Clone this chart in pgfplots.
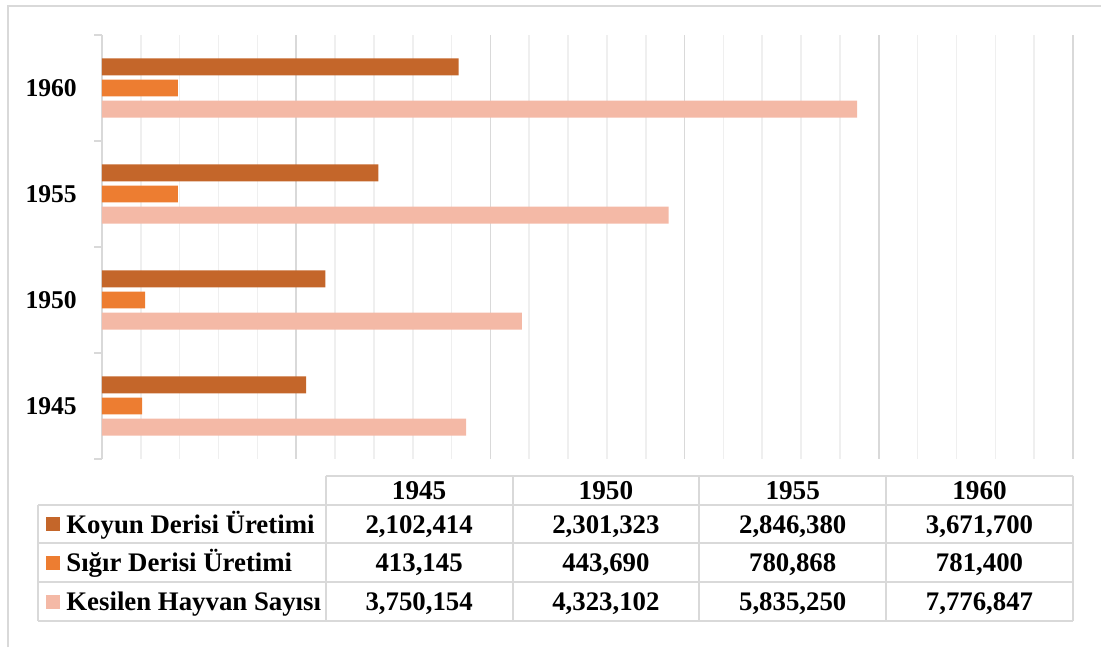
\documentclass[border=0pt]{standalone}
\usepackage{pgfplots}
\pgfplotsset{compat=1.18}
\usepackage{fontspec}
\setmainfont{Liberation Serif}

\definecolor{koyun}{HTML}{C4662A}
\definecolor{sigir}{HTML}{ED7D31}
\definecolor{kesilen}{HTML}{F4B9A6}
\definecolor{gridmaj}{HTML}{D9D9D9}
\definecolor{gridmin}{HTML}{EFEFEF}

\begin{document}
\begin{tikzpicture}[font=\bfseries\fontsize{13.4}{15}\selectfont]
\path[use as bounding box] (-51pt,-94pt) rectangle (499.5pt,229.5pt);
% outer chart frame
\draw[gridmaj, line width=1pt] (-47pt,-94pt) -- (-47pt,226.5pt) -- (499.5pt,226.5pt);

\begin{axis}[
  at={(0pt,0pt)}, anchor=south west,
  scale only axis, width=485.5pt, height=212pt,
  xbar, bar width=0.16,
  xmin=0, xmax=10000000, ymin=-0.5, ymax=3.5,
  axis y line*=left, axis x line*=bottom,
  x axis line style={draw=none},
  y axis line style={gridmaj, line width=1pt, -},
  xtick={0,2000000,4000000,6000000,8000000,10000000},
  xticklabels={}, minor x tick num=4,
  xmajorgrids, xminorgrids,
  major grid style={gridmaj, line width=0.8pt},
  minor grid style={gridmin, line width=0.8pt},
  x tick style={draw=none},
  ytick={0,1,2,3},
  yticklabels={\textbf{1945},\textbf{1950},\textbf{1955},\textbf{1960}},
  minor ytick={-0.5,0.5,1.5,2.5,3.5},
  y tick style={gridmaj, line width=1pt},
  major tick length=0pt, minor tick length=3.8pt, tick align=outside,
  yticklabel style={font=\bfseries\fontsize{12.8}{15}\selectfont, inner sep=0pt, anchor=east, xshift=-12.4pt},
  scaled x ticks=false,
]
\addplot[draw=none, fill=koyun, bar shift=0.2] coordinates {
  (2102414,0) (2301323,1) (2846380,2) (3671700,3)};
\addplot[draw=none, fill=sigir, bar shift=0] coordinates {
  (413145,0) (443690,1) (780868,2) (781400,3)};
\addplot[draw=none, fill=kesilen, bar shift=-0.2] coordinates {
  (3750154,0) (4323102,1) (5835250,2) (7776847,3)};
\end{axis}

% data table
\def\cA{-31.85pt}\def\cB{111.85pt}\def\cC{205.25pt}\def\cD{298.65pt}\def\cE{392.05pt}\def\cF{485.45pt}
\begin{scope}[gridmaj, line width=1pt]
\draw (\cB,-8.35pt) -- (\cF,-8.35pt);
\draw (\cA,-23pt) -- (\cF,-23pt);
\draw (\cA,-42.15pt) -- (\cF,-42.15pt);
\draw (\cA,-61.65pt) -- (\cF,-61.65pt);
\draw (\cA,-80.85pt) -- (\cF,-80.85pt);
\draw (\cA,-23pt) -- (\cA,-80.85pt);
\foreach \c in {\cB,\cC,\cD,\cE,\cF} \draw (\c,-8.35pt) -- (\c,-80.85pt);
\end{scope}

\foreach \x/\t in {158.55/1945, 251.95/1950, 345.35/1955, 438.75/1960}
  \node[anchor=base, inner sep=0pt, font=\bfseries\fontsize{13.6}{15}\selectfont] at (\x pt,-20.2pt) {\t};

\fill[koyun] (-28pt,-36.1pt) rectangle (-21pt,-29.1pt);
\fill[sigir] (-28pt,-55.4pt) rectangle (-21pt,-48.4pt);
\fill[kesilen] (-28pt,-74.75pt) rectangle (-21pt,-67.75pt);
\node[anchor=base west, inner sep=0pt] at (-18pt,-37pt) {Koyun Derisi Üretimi};
\node[anchor=base west, inner sep=0pt] at (-18pt,-56.3pt) {Sığır Derisi Üretimi};
\node[anchor=base west, inner sep=0pt] at (-18pt,-75.65pt) {Kesilen Hayvan Sayısı};

\foreach \x/\a/\b/\c in {158.55/{2,102,414}/{413,145}/{3,750,154},
                         251.95/{2,301,323}/{443,690}/{4,323,102},
                         345.35/{2,846,380}/{780,868}/{5,835,250},
                         438.75/{3,671,700}/{781,400}/{7,776,847}} {
  \node[anchor=base, inner sep=0pt] at (\x pt,-37pt) {\a};
  \node[anchor=base, inner sep=0pt] at (\x pt,-56.3pt) {\b};
  \node[anchor=base, inner sep=0pt] at (\x pt,-75.65pt) {\c};
}
\end{tikzpicture}
\end{document}
